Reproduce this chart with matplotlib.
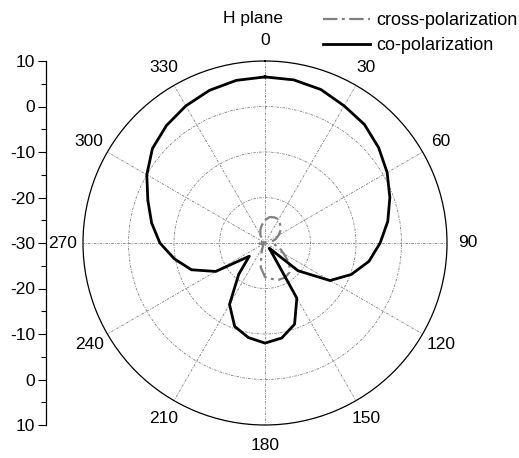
import numpy as np
import matplotlib
matplotlib.use('Agg')
from matplotlib import pyplot as plt
from matplotlib.ticker import FixedLocator, MultipleLocator

plt.rcParams['font.family'] = ['Liberation Sans', 'DejaVu Sans']
plt.rcParams['font.size'] = 12.5

# data (angle in degrees, gain in dB)
angles = np.arange(0, 360, 10)
co_pol = [6.5, 6.4, 5.9, 4.8, 4.0, 2.6, 1.0, -0.8, -2.6, -4.7,
          -6.8, -9.8, -13.5, -20.5, -28.5, -16.0, -11.0, -8.8, -8.0, -8.9,
          -10.5, -14.4, -21.0, -25.5, -17.5, -12.8, -9.8, -6.9, -4.7, -2.6,
          0.0, 2.3, 3.7, 4.8, 5.7, 6.3]
cross_pol = [-25.0, -24.2, -24.0, -24.0, -24.8, -25.5, -26.5, -27.5, -28.5, -28.5,
             -27.8, -26.5, -25.2, -23.0, -21.6, -21.2, -21.4, -22.0, -22.5, -24.6,
             -27.7, -29.0, -29.5, -29.5, -29.5, -29.5, -29.0, -28.5, -28.5, -29.0,
             -29.5, -29.5, -29.0, -28.0, -27.0, -26.0]
angle_labels = ['0', '30', '60', '90', '120', '150', '180', '210', '240', '270', '300', '330']
left_ticks = [-40, -30, -20, -10, 0, 10, 20, 30, 40]
left_labels = ['10', '0', '-10', '-20', '-30', '-20', '-10', '0', '10']

W, H = 519, 458
fig = plt.figure(figsize=(W / 100, H / 100), dpi=100)

cx, cy, R = 265, 243, 182
ax = fig.add_axes([(cx - R) / W, (H - cy - R) / H, 2 * R / W, 2 * R / H], projection='polar')
ax.set_theta_zero_location('N')
ax.set_theta_direction(-1)
ax.set_ylim(-30, 10)
ax.set_yticks([-20, -10, 0])
ax.set_yticklabels([])
ax.set_xticks(np.radians(np.arange(0, 360, 30)))
ax.set_xticklabels([])
ax.xaxis.set_minor_locator(FixedLocator(np.radians(np.arange(15, 360, 30))))
ax.tick_params(axis='x', which='major', direction='in', length=6, width=0.8, color='black')
ax.tick_params(axis='x', which='minor', direction='in', length=4, width=0.8, color='black')
ax.grid(True, color='#808080', linestyle=(0, (3, 1.5, 1, 1.5)), linewidth=0.6)
ax.spines['polar'].set_color('black')
ax.spines['polar'].set_linewidth(0.9)

th = np.radians(np.append(angles, 360))
ax.plot(th, np.append(cross_pol, cross_pol[0]), color='#808080', lw=1.6,
        linestyle=(0, (6.5, 2, 1.3, 2)), label='cross-polarization')
ax.plot(th, np.append(co_pol, co_pol[0]), color='black', lw=2.0, label='co-polarization')

for a, lab in zip(np.arange(0, 360, 30), angle_labels):
    ax.text(np.radians(a), 14.6, lab, ha='center', va='center', clip_on=False)

fig.text(253 / W, 1 - 18 / H, 'H plane', ha='center', va='center')

# left dB scale
ax2 = fig.add_axes([46 / W, (H - cy - R) / H, 0.0005, 2 * R / H])
ax2.set_ylim(-40, 40)
ax2.set_yticks(left_ticks[::-1])
ax2.set_yticklabels(left_labels[::-1])
ax2.yaxis.set_minor_locator(MultipleLocator(5))
ax2.set_xticks([])
for s in ['top', 'right', 'bottom']:
    ax2.spines[s].set_visible(False)
ax2.spines['left'].set_linewidth(0.9)
ax2.tick_params(axis='y', which='major', length=6, width=0.8, pad=2)
ax2.tick_params(axis='y', which='minor', length=3.5, width=0.8)
ax2.patch.set_visible(False)

h, l = ax.get_legend_handles_labels()
fig.legend(h, l, loc='upper left', bbox_to_anchor=(323 / W, 1 - 12 / H), frameon=False,
           borderpad=0, borderaxespad=0, handlelength=2.6, handletextpad=0.35,
           labelspacing=0.45, fontsize=13)

fig.savefig('out.png', dpi=100)
